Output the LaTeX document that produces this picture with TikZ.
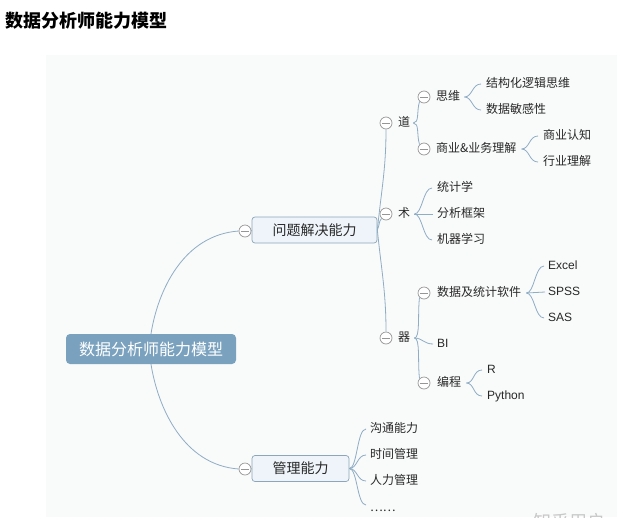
\documentclass[tikz,border=0pt]{standalone}
\usepackage{fontspec}
\setmainfont{Liberation Sans}
\newfontfamily\cjk{Noto Sans CJK SC}
\definecolor{connc}{RGB}{143,173,196}
\definecolor{rootfill}{RGB}{122,162,191}
\definecolor{boxfill}{RGB}{238,244,249}
\definecolor{boxdraw}{RGB}{141,166,186}
\definecolor{foldgray}{RGB}{150,150,150}
\definecolor{panelbg}{RGB}{249,250,250}
\definecolor{txt}{RGB}{40,40,40}
\definecolor{wm}{RGB}{200,200,200}
\tikzset{
  conn/.style={draw=connc, line width=0.8pt},
  fold/.style={circle, draw=foldgray, fill=white, line width=0.7pt, minimum size=12pt, inner sep=0pt,
    path picture={\draw[foldgray, line width=0.7pt] ([xshift=-3.6pt]path picture bounding box.center) -- ([xshift=3.6pt]path picture bounding box.center);}},
  lbl/.style={anchor=west, inner sep=0pt, text height=0.76em, text depth=0em, text=txt, font=\cjk\fontsize{12}{14}\selectfont},
  lat/.style={lbl, font=\fontsize{12}{14}\selectfont},
  rootbox/.style={fill=rootfill, rounded corners=4pt, minimum width=170pt, minimum height=30pt, inner sep=0pt, text=white, font=\cjk\fontsize{16}{18}\selectfont},
  topicbox/.style={draw=boxdraw, fill=boxfill, line width=0.7pt, rounded corners=3pt, minimum height=26pt, inner sep=0pt, text=txt, font=\cjk\fontsize{14}{16}\selectfont},
}
\begin{document}
\begin{tikzpicture}[x=1pt, y=-1pt]
\useasboundingbox (0,0) rectangle (629,517);
\clip (0,0) rectangle (629,517);
% panel
\fill[panelbg] (46,55) rectangle (617,517);
% title
\node[anchor=west, inner sep=0pt, font=\cjk\bfseries\fontsize{18}{20}\selectfont, text=black] (title) at (5,21) {数据分析师能力模型};
% watermark
\node[anchor=west, inner sep=0pt, font=\cjk\fontsize{18}{20}\selectfont, text=wm] (wmark) at (533,522) {知乎用户};

% main nodes
\node[rootbox] (root) at (151,349) {数据分析师能力模型};
\node[topicbox, minimum width=125pt] (p1) at (314.5,230) {问题解决能力};
\node[topicbox, minimum width=97pt] (p2) at (300.5,468.5) {管理能力};
\node[fold] (f1) at (245,231) {};
\node[fold] (f2) at (245,469) {};

% level 1
\node[fold] (fdao) at (386,123) {};
\node[fold] (fshu) at (386,214) {};
\node[fold] (fqi) at (386,338) {};
\node[lbl] (dao) at (398,123) {道};
\node[lbl] (shu) at (398,214) {术};
\node[lbl] (qi) at (398,338) {器};

% 道
\node[fold] (fsiwei) at (424,97) {};
\node[fold] (fshangye) at (424,149) {};
\node[lbl] (siwei) at (436,97) {思维};
\node[lbl] (jiegou) at (486,84) {结构化逻辑思维};
\node[lbl] (minggan) at (486,110) {数据敏感性};
\node[lbl] (shangye) at (436,149) {商业\&业务理解};
\node[lbl] (renzhi) at (543,136) {商业认知};
\node[lbl] (hangye) at (543,162) {行业理解};

% 术
\node[lbl] (tongji) at (437,188) {统计学};
\node[lbl] (kuangjia) at (437,214) {分析框架};
\node[lbl] (jiqi) at (437,240) {机器学习};

% 器
\node[fold] (fruanjian) at (424,293) {};
\node[fold] (fbiancheng) at (424,383) {};
\node[lbl] (ruanjian) at (437,293) {数据及统计软件};
\node[lat] (excel) at (548,266) {Excel};
\node[lat] (spss) at (548,292) {SPSS};
\node[lat] (sas) at (548,318) {SAS};
\node[lat] (bi) at (437,344) {BI};
\node[lbl] (biancheng) at (437,383) {编程};
\node[lat] (rlang) at (487,370) {R};
\node[lat] (python) at (487,396) {Python};

% 管理能力
\node[lbl] (goutong) at (370,429) {沟通能力};
\node[lbl] (shijian) at (370,455) {时间管理};
\node[lbl] (renli) at (370,481) {人力管理};
\node[lbl] (dots) at (370,508) {……};

% connectors: root
\draw[conn] (root.north) .. controls +(7,-44) and +(-55,4) .. (f1.west);
\draw[conn] (root.south) .. controls +(7,44) and +(-55,-4) .. (f2.west);
\draw[conn] (f1.east) -- (p1.west);
\draw[conn] (f2.east) -- (p2.west);

% 问题解决能力 -> 道 术 器
\draw[conn] (p1.east) .. controls +(4,-40) and +(0,40) .. (fdao.south);
\draw[conn] (p1.east) .. controls +(3,-8) and +(-3,4) .. (fshu.south west);
\draw[conn] (p1.east) .. controls +(4,40) and +(0,-40) .. (fqi.north);

% 道 brace
\coordinate (daoR) at ([xshift=3pt]dao.east);
\draw[conn] (daoR) .. controls +(6,0) and +(-3,10) .. (fsiwei.south west);
\draw[conn] (daoR) .. controls +(6,0) and +(-3,-10) .. (fshangye.north west);

% 思维 brace
\coordinate (siweiR) at ([xshift=4pt]siwei.east);
\coordinate (jiegouL) at ([xshift=-5pt]jiegou.west);
\coordinate (mingganL) at ([xshift=-5pt]minggan.west);
\draw[conn] (siweiR) .. controls +(8,0) and +(-9,0) .. (jiegouL);
\draw[conn] (siweiR) .. controls +(8,0) and +(-9,0) .. (mingganL);

% 商业&业务理解 brace
\coordinate (shangyeR) at ([xshift=5pt]shangye.east);
\coordinate (renzhiL) at ([xshift=-5pt]renzhi.west);
\coordinate (hangyeL) at ([xshift=-5pt]hangye.west);
\draw[conn] (shangyeR) .. controls +(8,0) and +(-9,0) .. (renzhiL);
\draw[conn] (shangyeR) .. controls +(8,0) and +(-9,0) .. (hangyeL);

% 术 brace
\coordinate (shuR) at ([xshift=4pt]shu.east);
\coordinate (tongjiL) at ([xshift=-5pt]tongji.west);
\coordinate (kuangjiaL) at ([xshift=-4pt]kuangjia.west);
\coordinate (jiqiL) at ([xshift=-5pt]jiqi.west);
\draw[conn] (shuR) .. controls +(8,0) and +(-9,0) .. (tongjiL);
\draw[conn] (shuR) -- (kuangjiaL);
\draw[conn] (shuR) .. controls +(8,0) and +(-9,0) .. (jiqiL);

% 器 brace
\coordinate (qiR) at ([xshift=4pt]qi.east);
\coordinate (biL) at ([xshift=-4pt]bi.west);
\draw[conn] (qiR) .. controls +(6,0) and +(-2,16) .. (fruanjian.south west);
\draw[conn] (qiR) .. controls +(8,0) and +(-9,0) .. (biL);
\draw[conn] (qiR) .. controls +(6,0) and +(-2,-16) .. (fbiancheng.north west);

% 数据及统计软件 brace
\coordinate (ruanjianR) at ([xshift=5pt]ruanjian.east);
\coordinate (excelL) at ([xshift=-4pt]excel.west);
\coordinate (spssL) at ([xshift=-3pt]spss.west);
\coordinate (sasL) at ([xshift=-4pt]sas.west);
\draw[conn] (ruanjianR) .. controls +(8,0) and +(-9,0) .. (excelL);
\draw[conn] (ruanjianR) -- (spssL);
\draw[conn] (ruanjianR) .. controls +(8,0) and +(-9,0) .. (sasL);

% 编程 brace
\coordinate (bianchengR) at ([xshift=5pt]biancheng.east);
\coordinate (rL) at ([xshift=-5pt]rlang.west);
\coordinate (pythonL) at ([xshift=-5pt]python.west);
\draw[conn] (bianchengR) .. controls +(8,0) and +(-9,0) .. (rL);
\draw[conn] (bianchengR) .. controls +(8,0) and +(-9,0) .. (pythonL);

% 管理能力 brace
\coordinate (goutongL) at ([xshift=-4pt]goutong.west);
\coordinate (shijianL) at ([xshift=-4pt]shijian.west);
\coordinate (renliL) at ([xshift=-4pt]renli.west);
\coordinate (dotsL) at ([xshift=-4pt,yshift=3pt]dots.west);
\draw[conn] (p2.east) .. controls +(8,0) and +(-9,0) .. (goutongL);
\draw[conn] (p2.east) .. controls +(8,0) and +(-9,0) .. (shijianL);
\draw[conn] (p2.east) .. controls +(8,0) and +(-9,0) .. (renliL);
\draw[conn] (p2.east) .. controls +(8,0) and +(-9,0) .. (dotsL);
\end{tikzpicture}
\end{document}
